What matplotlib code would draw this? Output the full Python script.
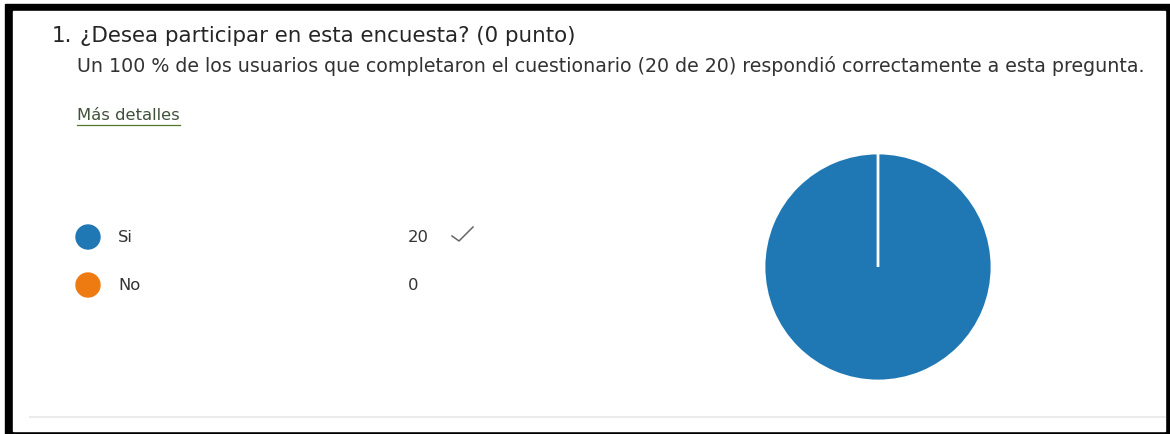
import matplotlib
matplotlib.use("Agg")
import matplotlib.pyplot as plt
from matplotlib.patches import Rectangle, Circle

# Survey data
question = "¿Desea participar en esta encuesta? (0 punto)"
summary = ("Un 100 % de los usuarios que completaron el cuestionario (20 de 20) "
           "respondió correctamente a esta pregunta.")
categories = ['Si', 'No']
counts = [20, 0]
correct = [True, False]
colors = ['#1f77b4', '#ee7b11']

plt.rcParams['font.family'] = ['DejaVu Sans']

W, H = 1170, 435
fig = plt.figure(figsize=(W / 100, H / 100), dpi=100)
fig.patch.set_facecolor('white')

# full-figure canvas in pixel coordinates
bg = fig.add_axes([0, 0, 1, 1])
bg.set_xlim(0, W)
bg.set_ylim(H, 0)
bg.axis('off')

# black frame around the card
bg.add_patch(Rectangle((5, 5), W - 5, H - 5, color='black', zorder=0))
bg.add_patch(Rectangle((13, 12), 1152, 420, color='white', zorder=1))
bg.plot([30, 1165], [418, 418], color='#ebebeb', lw=1.5, zorder=2)

# header text
bg.text(52, 36, "1.", fontsize=15.4, color='#252525', va='center', zorder=3)
bg.text(80, 36, question, fontsize=15.4, color='#252525', va='center', zorder=3)
bg.text(77, 66, summary, fontsize=13.7, color='#333333', va='center', zorder=3)
bg.text(77, 116, "Más detalles", fontsize=11.8, color='#40513a', va='center', zorder=3)
bg.plot([77, 180], [126, 126], color='#4f7a28', lw=0.9, zorder=3)

# legend rows with counts
for i, (cat, n, ok, c) in enumerate(zip(categories, counts, correct, colors)):
    y = 238 + i * 48
    bg.add_patch(Circle((88, y), 12, color=c, zorder=3))
    bg.text(118, y, cat, fontsize=11.8, color='#333333', va='center', zorder=3)
    bg.text(408, y, str(n), fontsize=11.8, color='#333333', va='center', zorder=3)
    if ok:
        bg.plot([452, 459, 473], [y - 1, y + 4, y - 10], color='#666666', lw=1.1, zorder=3)

# pie chart
cx, cy, r = 878, 268, 114
ax = fig.add_axes([(cx - r) / W, (H - cy - r) / H, 2 * r / W, 2 * r / H])
ax.pie(counts, colors=colors, startangle=90, counterclock=False,
       wedgeprops=dict(edgecolor='white', linewidth=2))
ax.set_xlim(-1, 1)
ax.set_ylim(-1, 1)

fig.savefig('out.png', dpi=100)
